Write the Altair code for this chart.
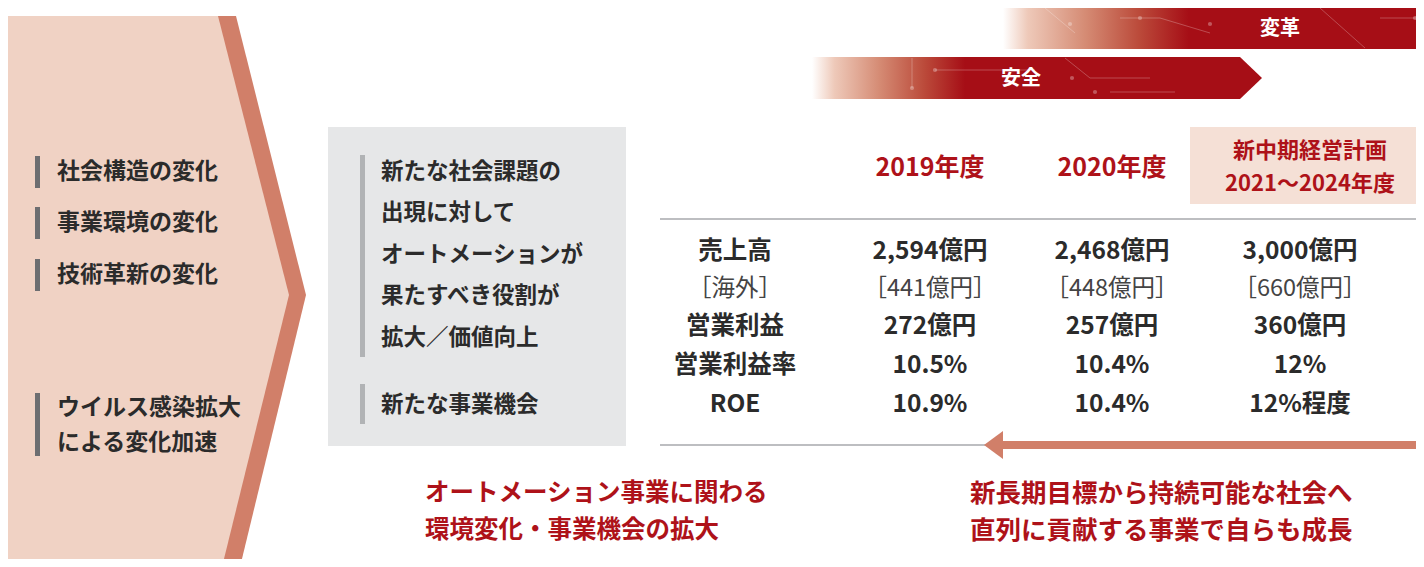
import altair as alt
import pandas as pd

# ---------------- data (text content and values) ----------------
left_items = ["社会構造の変化", "事業環境の変化", "技術革新の変化"]
virus_lines = ["ウイルス感染拡大", "による変化加速"]
box_lines = ["新たな社会課題の", "出現に対して", "オートメーションが", "果たすべき役割が", "拡大／価値向上"]
box_extra = ["新たな事業機会"]
banners = ["安全", "変革"]
year_headers = ["2019年度", "2020年度"]
plan_header = ["新中期経営計画", "2021～2024年度"]
row_labels = ["売上高", "［海外］", "営業利益", "営業利益率", "ROE"]
fy2019 = ["2,594億円", "［441億円］", "272億円", "10.5%", "10.9%"]
fy2020 = ["2,468億円", "［448億円］", "257億円", "10.4%", "10.4%"]
plan = ["3,000億円", "［660億円］", "360億円", "12%", "12%程度"]
left_msg = ["オートメーション事業に関わる", "環境変化・事業機会の拡大"]
right_msg = ["新長期目標から持続可能な社会へ", "直列に貢献する事業で自らも成長"]

# ---------------- layout (positions in page pixels) ----------------
W, H = 1408, 551
FONT = "Noto Sans CJK JP"
RED = "#AE1219"
DARK = "#2B2B2B"

xs = alt.Scale(domain=[8, 8 + W])
ys = alt.Scale(domain=[8, 8 + H], reverse=True)


def X(f="x"):
    return alt.X(f"{f}:Q", scale=xs, axis=None)


def Y(f="y"):
    return alt.Y(f"{f}:Q", scale=ys, axis=None)


def text_layer(df, size, color, weight="bold", align="left"):
    return alt.Chart(df).mark_text(
        font=FONT, fontSize=size, fontWeight=weight, color=color,
        align=align, baseline="middle"
    ).encode(x=X(), y=Y(), text="t:N")


layers = []

# left chevron: outer (dark) band then inner light fill
chev_outer = pd.DataFrame({"y": [16, 295, 567], "x": [7, 7, 7], "x2": [236, 306, 240]})
chev_inner = pd.DataFrame({"y": [16, 295, 567], "x": [7, 7, 7], "x2": [218, 289, 222]})
layers.append(alt.Chart(chev_outer).mark_area(orient="horizontal", color="#D17F69")
              .encode(y=Y(), x=X(), x2="x2:Q"))
layers.append(alt.Chart(chev_inner).mark_area(orient="horizontal", color="#F0D2C4")
              .encode(y=Y(), x=X(), x2="x2:Q"))

# left panel bars + texts
left_bars = pd.DataFrame({"x": [35, 35, 35, 35], "x2": [40, 40, 40, 40],
                          "y": [156, 207, 259, 393], "y2": [188, 239, 291, 456]})
layers.append(alt.Chart(left_bars).mark_rect(color="#6D6E71")
              .encode(x=X(), x2="x2:Q", y=Y(), y2="y2:Q"))
left_txt = pd.DataFrame({"x": [57] * 5, "y": [172, 223, 275, 408, 443],
                         "t": left_items + virus_lines})
layers.append(text_layer(left_txt, 23, DARK))

# grey box
box = pd.DataFrame({"x": [328], "x2": [626], "y": [127], "y2": [446]})
layers.append(alt.Chart(box).mark_rect(color="#E6E7E8").encode(x=X(), x2="x2:Q", y=Y(), y2="y2:Q"))
box_bars = pd.DataFrame({"x": [360, 360], "x2": [365, 365], "y": [155, 384], "y2": [357, 424]})
layers.append(alt.Chart(box_bars).mark_rect(color="#B1B3B5")
              .encode(x=X(), x2="x2:Q", y=Y(), y2="y2:Q"))
box_txt = pd.DataFrame({"x": [381] * 6, "y": [172, 213, 255, 296, 338, 405],
                        "t": box_lines + box_extra})
layers.append(text_layer(box_txt, 22.5, DARK))

# top banners with gradient
grad_top = alt.Gradient(gradient="linear", x1=0, x2=1, y1=0, y2=0, stops=[
    alt.GradientStop(color="#FFFFFF", offset=0),
    alt.GradientStop(color="#EEC9B9", offset=0.06),
    alt.GradientStop(color="#D58B74", offset=0.2),
    alt.GradientStop(color="#BB4A3A", offset=0.33),
    alt.GradientStop(color="#A60E16", offset=0.45),
    alt.GradientStop(color="#A60E16", offset=1)])
top_banner = pd.DataFrame({"x": [1003], "x2": [1416], "y": [7.5], "y2": [49]})
layers.append(alt.Chart(top_banner).mark_rect(color=grad_top)
              .encode(x=X(), x2="x2:Q", y=Y(), y2="y2:Q"))

grad_mid = alt.Gradient(gradient="linear", x1=0, x2=1, y1=0, y2=0, stops=[
    alt.GradientStop(color="#FFFFFF", offset=0),
    alt.GradientStop(color="#EEC9B9", offset=0.05),
    alt.GradientStop(color="#D58B74", offset=0.15),
    alt.GradientStop(color="#BB4A3A", offset=0.25),
    alt.GradientStop(color="#A60E16", offset=0.34),
    alt.GradientStop(color="#A60E16", offset=1)])
mid_banner = pd.DataFrame({"x": [812, 1240, 1262], "y": [57, 57, 78], "y2": [99, 99, 78]})
layers.append(alt.Chart(mid_banner).mark_area(color=grad_mid)
              .encode(x=X(), y=Y(), y2="y2:Q"))

# faint circuit decorations inside the banners
circ = pd.DataFrame({
    "x":  [912, 935, 1065, 1090, 1110, 1045, 1120, 1160, 1320, 1380],
    "x2": [912, 1035, 1090, 1150, 1175, 1075, 1160, 1210, 1365, 1416],
    "y":  [58, 70, 58, 78, 92, 8, 18, 18, 8, 18],
    "y2": [88, 70, 78, 78, 92, 33, 18, 33, 48, 18]})
layers.append(alt.Chart(circ).mark_rule(color="#FFFFFF", opacity=0.25, strokeWidth=1)
              .encode(x=X(), x2="x2:Q", y=Y(), y2="y2:Q"))
dots = pd.DataFrame({"x": [912, 935, 1072, 1095, 1070, 1140, 1210, 1415],
                     "y": [88, 70, 78, 92, 24, 18, 24, 18]})
layers.append(alt.Chart(dots).mark_circle(color="#FFFFFF", opacity=0.3, size=18)
              .encode(x=X(), y=Y()))

banner_txt = pd.DataFrame({"x": [1021, 1280], "y": [79, 29], "t": banners})
layers.append(text_layer(banner_txt, 20, "#FFFFFF", align="center"))

# plan highlight box
plan_box = pd.DataFrame({"x": [1190], "x2": [1416], "y": [127], "y2": [204]})
layers.append(alt.Chart(plan_box).mark_rect(color="#F5E0D6")
              .encode(x=X(), x2="x2:Q", y=Y(), y2="y2:Q"))

# header texts
col_x = [930, 1112, 1300]
hdr = pd.DataFrame({"x": col_x[:2], "y": [168, 168], "t": year_headers})
layers.append(text_layer(hdr, 25, RED, align="center"))
plan_hdr = pd.DataFrame({"x": [1310, 1310], "y": [151, 184], "t": plan_header})
layers.append(text_layer(plan_hdr, 22, RED, align="center"))

# table separator lines
lines = pd.DataFrame({"x": [660, 660], "x2": [1416, 995], "y": [219, 445], "y2": [219, 445]})
layers.append(alt.Chart(lines).mark_rule(color="#A7A9AC", strokeWidth=1.5)
              .encode(x=X(), x2="x2:Q", y=Y(), y2="y2:Q"))

# return arrow (salmon)
arrow_shaft = pd.DataFrame({"x": [998], "x2": [1416], "y": [445], "y2": [445]})
layers.append(alt.Chart(arrow_shaft).mark_rule(color="#D17F69", strokeWidth=8)
              .encode(x=X(), x2="x2:Q", y=Y(), y2="y2:Q"))
arrow_head = pd.DataFrame({"x": [984, 1003], "y": [445, 431], "y2": [445, 459]})
layers.append(alt.Chart(arrow_head).mark_area(color="#D17F69")
              .encode(x=X(), y=Y(), y2="y2:Q"))

# table body
row_y = [252, 289, 327, 366, 405]
label_x = 735
bold_rows = [0, 2, 3, 4]
body_bold = []
body_light = []
for i, yv in enumerate(row_y):
    cells = [(label_x, row_labels[i]), (col_x[0], fy2019[i]), (col_x[1], fy2020[i]), (col_x[2], plan[i])]
    for cx, t in cells:
        (body_bold if i in bold_rows else body_light).append({"x": cx, "y": yv, "t": t})
layers.append(text_layer(pd.DataFrame(body_bold), 24.5, DARK, align="center"))
layers.append(text_layer(pd.DataFrame(body_light), 23.5, "#444444", weight="normal", align="center"))

# bottom messages
bl = pd.DataFrame({"x": [425, 425], "y": [494, 531], "t": left_msg})
layers.append(text_layer(bl, 24.5, RED))
br = pd.DataFrame({"x": [970, 970], "y": [494, 531], "t": right_msg})
layers.append(text_layer(br, 25.5, RED))

chart = alt.layer(*layers).properties(
    width=W, height=H, autosize="none", padding=0, background="#FFFFFF"
).configure_view(stroke=None)

chart.save("out.html", embed_options={"renderer": "svg", "actions": False})
